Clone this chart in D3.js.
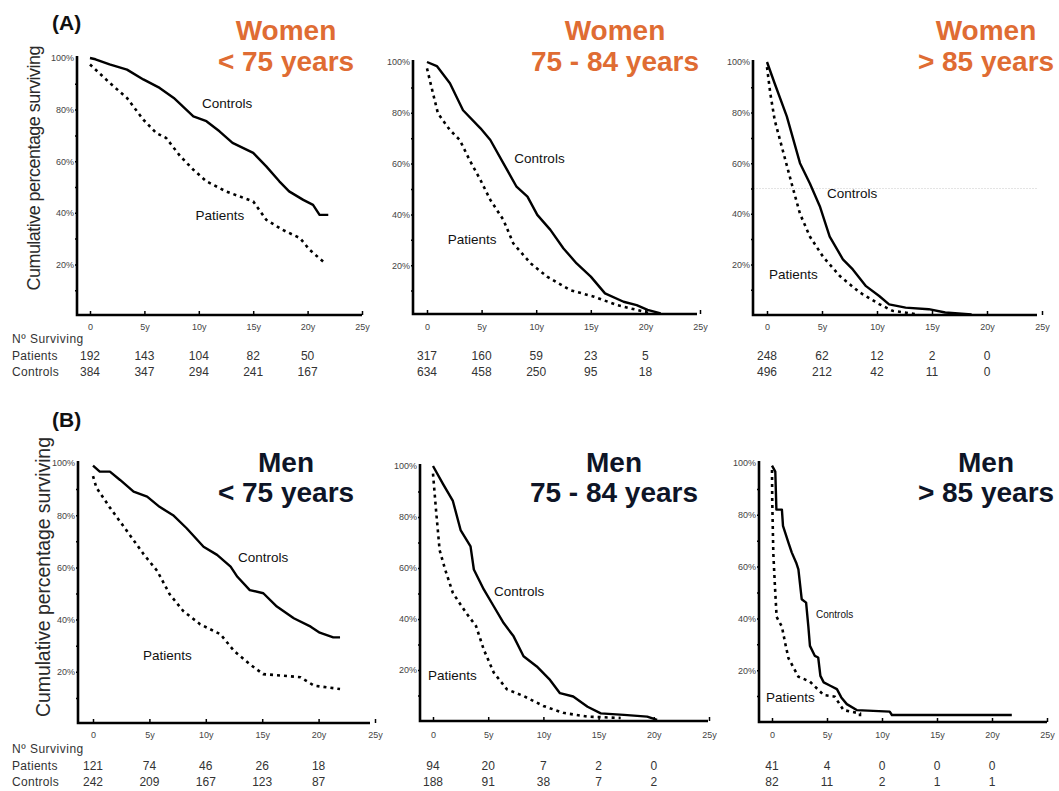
<!DOCTYPE html>
<html>
<head>
<meta charset="utf-8">
<script src="https://cdn.jsdelivr.net/npm/d3@7"></script>
<style>
  body { margin: 0; background: #fff; }
  svg { display: block; }
</style>
</head>
<body>
<div class="chart"></div>
<script>
// ---- data (years, % surviving) ----
const xTicks = [0, 5, 10, 15, 20, 25];
const yTicks = [20, 40, 60, 80, 100];
const yMinor = [10, 20, 30, 40, 50, 60, 70, 80, 90];
const tableYears = [0, 5, 10, 15, 20];

const womenLt75Controls = [[0,100],[0.5,99.5],[1.8,97.5],[3.4,95.5],[4.9,91.7],[6.4,88.4],[7.7,84.5],[9.5,77.4],[10.7,75.5],[11.9,71.6],[13.1,67.1],[15.0,63.2],[16.2,58],[17.4,52.2],[18.3,48.3],[19.6,45],[20.5,43.1],[21.1,39.2],[21.9,39.2]];
const womenLt75Patients = [[0,97.5],[1.8,90.4],[3.4,84.5],[4.9,76.1],[6.1,70.9],[7.0,69],[8.3,61.9],[9.5,56.7],[10.7,52.2],[12.5,48.3],[15.0,44.4],[16.2,37.3],[17.7,33.4],[19.3,30.2],[20.2,25.6],[21.6,20.5]];

const women7584Controls = [[0,100],[0.9,98.4],[2.1,91.6],[3.3,81],[4.9,73.9],[5.8,69.3],[7.0,60.1],[8.2,50.9],[9.2,47],[10.1,39.8],[11.3,33.9],[12.5,26.6],[13.7,20.7],[15.0,15.5],[16.3,8.9],[18.0,5.6],[19.2,4.3],[20.2,2.4],[21.4,1]];
const women7584Patients = [[0,97.5],[0.4,90.3],[1.0,79.8],[2.1,73.2],[3.0,69.3],[3.9,61.4],[4.9,53.5],[5.8,45.7],[7.0,37.8],[7.9,28.6],[9.5,20.7],[11.0,15.5],[13.1,10.2],[15.3,7.6],[17.4,4.3],[19.2,2.4],[20.5,1]];

const womenGt85Controls = [[0,100],[0.7,91.5],[1.8,78.5],[3.0,60],[3.9,52],[4.8,43],[5.7,31],[6.9,22],[7.8,18],[9.0,11.4],[10.2,7.5],[11.1,4.2],[12.6,2.9],[14.7,2.3],[16.2,1],[18.6,0.2]];
const womenGt85Patients = [[0,98],[0.3,87.6],[0.7,77],[1.5,64],[2.3,51],[3.0,40],[3.9,31],[5.1,23],[6.6,15.5],[8.4,9],[10.2,4.3],[11.4,1.7],[13.8,0.2]];

const menLt75Controls = [[0,99],[0.6,96.7],[1.5,96.7],[2.4,93.5],[3.6,89],[4.8,87.1],[5.9,83.2],[7.1,80],[8.3,75],[9.8,67.9],[11.0,64.8],[12.2,60.3],[12.8,56.4],[13.9,51.3],[15.1,50.1],[16.3,45],[17.8,40.5],[19.3,37.3],[20.1,35],[21.3,33.2],[21.9,33.2]];
const menLt75Patients = [[0,95],[0.3,90.6],[1.5,82.9],[3.0,74],[4.5,65],[5.7,58.6],[6.8,49.7],[8.0,43.3],[9.5,38.2],[11.3,34.4],[12.5,28],[13.9,22.9],[15.1,19.1],[16.9,18.5],[18.4,17.9],[19.6,14.7],[21.9,13.4]];

const men7584Controls = [[0,100],[0.9,93],[1.8,86.3],[2.5,74.9],[3.4,68.5],[3.7,59.4],[4.6,51.6],[5.5,45],[6.4,38.4],[7.3,33.2],[8.2,25.4],[9.4,21.4],[10.6,16.1],[11.5,10.9],[12.7,9.6],[14.0,5.6],[15.2,3],[17.3,2.4],[19.4,1.7],[20.3,0.4]];
const men7584Patients = [[0,97],[0.3,81.4],[0.6,67],[1.1,59.4],[1.8,50.2],[3.0,42.4],[3.9,37.2],[4.6,28],[5.5,19],[6.7,12.4],[8.2,9.8],[10.0,5.9],[11.8,3.2],[14.0,1.7],[17.0,1.2]];

const menGt85Controls = [[0,99],[0.3,96.7],[0.4,82],[0.9,82],[1.0,75.7],[1.5,69.2],[1.8,65.4],[2.2,61.5],[2.4,58.9],[2.7,47.4],[3.1,46.1],[3.3,37.1],[3.45,29.4],[3.9,25.5],[4.2,24.9],[4.4,17.8],[4.7,15.3],[5.3,14],[5.9,12.7],[6.3,9.5],[6.8,6.9],[7.7,4.6],[10.7,4.0],[10.9,2.7],[21.8,2.7]];
const menGt85Patients = [[0,97.3],[0.02,85.7],[0.12,65.1],[0.27,52.2],[0.42,40.6],[0.9,36.8],[1.2,30.4],[1.5,24.6],[2.4,17.5],[3.45,15.6],[4.7,10.4],[5.7,9.8],[6.5,4.6],[8.0,3.3],[8.0,0.8]];

// number surviving at 0, 5, 10, 15, 20 years
const womenLt75AtRisk = { patients: [192, 143, 104, 82, 50], controls: [384, 347, 294, 241, 167] };
const women7584AtRisk = { patients: [317, 160, 59, 23, 5], controls: [634, 458, 250, 95, 18] };
const womenGt85AtRisk = { patients: [248, 62, 12, 2, 0], controls: [496, 212, 42, 11, 0] };
const menLt75AtRisk = { patients: [121, 74, 46, 26, 18], controls: [242, 209, 167, 123, 87] };
const men7584AtRisk = { patients: [94, 20, 7, 2, 0], controls: [188, 91, 38, 7, 2] };
const menGt85AtRisk = { patients: [41, 4, 0, 0, 0], controls: [82, 11, 2, 1, 1] };

// label anchor points in data units [years, %]
const labelSpots = [
    { controls: [10.3, 80.6], patients: [9.7, 37.2] },
    { controls: [8.0, 60.2], patients: [1.9, 28.3] },
    { controls: [5.45, 46.2], patients: [0.18, 14.2] },
    { controls: [12.85, 62.1], patients: [4.43, 24.5] },
    { controls: [5.53, 49], patients: [-0.45, 16.1] },
    { controls: [4.0, 40.2], patients: [-0.55, 7.7] }
];

// ---- layout ----
const FONT = '"Liberation Sans", Arial, Helvetica, sans-serif';
const rows = [
    { title: [40, 71], color: "#df6c33", tickBase: 330, table: [343, 360, 376], letter: "(A)", letterY: 30,
      ytitle: { x: 40, cy: 168, size: 18, len: 245 } },
    { title: [472, 502], color: "#0e1527", tickBase: 738, table: [753, 770, 786], letter: "(B)", letterY: 427,
      ytitle: { x: 50, cy: 577, size: 19.5, len: 280 } }
];
const panels = [
    { row: 0, ax: 77, x0: 90, x25: 362, axEnd: 362, top: 58, y0: 316, axY: 315, cx: 286, title: ["Women", "< 75 years"],
      controls: womenLt75Controls, patients: womenLt75Patients, atRisk: womenLt75AtRisk },
    { row: 0, ax: 413, x0: 427, x25: 700, axEnd: 697, top: 62, y0: 316, axY: 314, cx: 615, title: ["Women", "75 - 84 years"],
      controls: women7584Controls, patients: women7584Patients, atRisk: women7584AtRisk },
    { row: 0, ax: 753, x0: 767, x25: 1042, axEnd: 1037, top: 62, y0: 315, axY: 315, cx: 986, title: ["Women", "> 85 years"],
      controls: womenGt85Controls, patients: womenGt85Patients, atRisk: womenGt85AtRisk, faint50: true },
    { row: 1, ax: 78, x0: 93, x25: 375, axEnd: 370, top: 463, y0: 724, axY: 723, cx: 286, title: ["Men", "< 75 years"],
      controls: menLt75Controls, patients: menLt75Patients, atRisk: menLt75AtRisk },
    { row: 1, ax: 420, x0: 433, x25: 709, axEnd: 708, top: 466, y0: 721, axY: 721, cx: 614, title: ["Men", "75 - 84 years"],
      controls: men7584Controls, patients: men7584Patients, atRisk: men7584AtRisk },
    { row: 1, ax: 759, x0: 772, x25: 1047, axEnd: 1047, top: 463, y0: 722, axY: 722, cx: 986, title: ["Men", "> 85 years"],
      controls: menGt85Controls, patients: menGt85Patients, atRisk: menGt85AtRisk, smallControls: true }
];

const W = 1059, H = 791;
const svg = d3.select(".chart").append("svg")
    .attr("width", W)
    .attr("height", H)
    .style("font-family", FONT);

// row-level text: panel letter, y-axis title, table row names
rows.forEach(r => {
    svg.append("text")
        .attr("x", 52).attr("y", r.letterY)
        .attr("font-size", 21).attr("font-weight", "bold").attr("fill", "#111")
        .text(r.letter);
    svg.append("text")
        .attr("transform", `translate(${r.ytitle.x},${r.ytitle.cy}) rotate(-90)`)
        .attr("text-anchor", "middle")
        .attr("font-size", r.ytitle.size).attr("fill", "#2a2a2a")
        .attr("textLength", r.ytitle.len).attr("lengthAdjust", "spacing")
        .text("Cumulative percentage surviving");
    const names = ["Nº Surviving", "Patients", "Controls"];
    names.forEach((n, i) => {
        svg.append("text")
            .attr("x", 12).attr("y", r.table[i])
            .attr("font-size", 12).attr("fill", "#333")
            .attr("letter-spacing", i === 0 ? 0.5 : 0.3)
            .text(n);
    });
});

const line = d3.line().curve(d3.curveLinear);

panels.forEach((p, idx) => {
    const r = rows[p.row];
    const x = d3.scaleLinear().domain([0, 25]).range([p.x0, p.x25]);
    const y = d3.scaleLinear().domain([0, 100]).range([p.y0, p.top]);
    const g = svg.append("g");

    // title
    p.title.forEach((t, i) => {
        g.append("text")
            .attr("x", p.cx).attr("y", r.title[i])
            .attr("text-anchor", "middle")
            .attr("font-size", 28).attr("font-weight", "bold")
            .attr("fill", r.color)
            .text(t);
    });

    if (p.faint50) {
        g.append("line")
            .attr("x1", p.ax).attr("x2", p.axEnd)
            .attr("y1", y(50)).attr("y2", y(50))
            .attr("stroke", "#e4e4e4").attr("stroke-width", 1)
            .attr("stroke-dasharray", "2,1");
    }

    // x axis ticks + labels
    const xAxis = d3.axisBottom(x)
        .tickValues(xTicks)
        .tickSize(-4)
        .tickPadding(r.tickBase - p.axY - 6.4)
        .tickFormat(d => d === 0 ? "0" : d + "y");
    const gx = g.append("g")
        .attr("transform", `translate(0,${p.axY})`)
        .call(xAxis);
    gx.select(".domain").remove();
    gx.selectAll(".tick line").attr("stroke", "#000").attr("stroke-width", 1.5);
    gx.selectAll("text").attr("font-size", 9).attr("fill", "#444").attr("font-family", FONT);

    // y axis labels
    const yAxis = d3.axisLeft(y)
        .tickValues(yTicks)
        .tickSize(0)
        .tickPadding(3)
        .tickFormat(d => d + "%");
    const gy = g.append("g")
        .attr("transform", `translate(${p.ax},0)`)
        .call(yAxis);
    gy.select(".domain").remove();
    gy.selectAll("text").attr("font-size", 9).attr("fill", "#444").attr("font-family", FONT);

    // minor y ticks
    const gm = g.append("g")
        .attr("transform", `translate(${p.ax},0)`)
        .call(d3.axisLeft(y).tickValues(yMinor).tickSize(2).tickFormat(""));
    gm.select(".domain").remove();
    gm.selectAll(".tick line").attr("stroke", "#000").attr("stroke-width", 1.5);

    // axis frame
    g.append("path")
        .attr("d", `M${p.ax},${p.top - 2}V${p.axY}H${p.axEnd}`)
        .attr("fill", "none").attr("stroke", "#000").attr("stroke-width", 2.6);

    // curves
    g.append("path")
        .datum(p.patients)
        .attr("d", line.x(d => x(d[0])).y(d => y(d[1])))
        .attr("fill", "none").attr("stroke", "#000")
        .attr("stroke-width", 2.6).attr("stroke-dasharray", "3,4");
    g.append("path")
        .datum(p.controls)
        .attr("d", line.x(d => x(d[0])).y(d => y(d[1])))
        .attr("fill", "none").attr("stroke", "#000")
        .attr("stroke-width", 2.4).attr("stroke-linejoin", "round");

    // curve labels
    const spot = labelSpots[idx];
    g.append("text")
        .attr("x", x(spot.controls[0])).attr("y", y(spot.controls[1]))
        .attr("font-size", p.smallControls ? 10 : 13.5).attr("fill", "#111")
        .text("Controls");
    g.append("text")
        .attr("x", x(spot.patients[0])).attr("y", y(spot.patients[1]))
        .attr("font-size", 13.5).attr("fill", "#111")
        .text("Patients");

    // number at risk table
    ["patients", "controls"].forEach((k, i) => {
        g.selectAll(".n-" + k)
            .data(p.atRisk[k])
            .join("text")
            .attr("x", (d, j) => x(tableYears[j]))
            .attr("y", r.table[i + 1])
            .attr("text-anchor", "middle")
            .attr("font-size", 12).attr("fill", "#333")
            .text(d => d);
    });
});
</script>
</body>
</html>
